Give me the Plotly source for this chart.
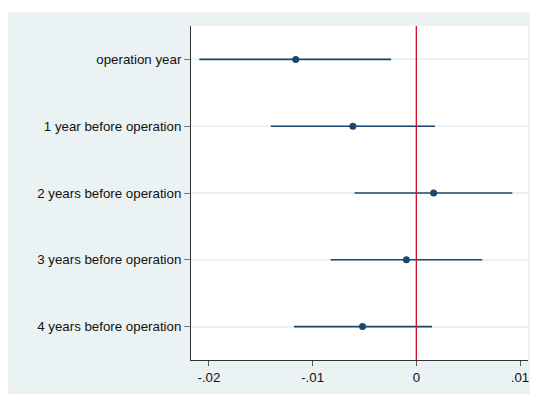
import plotly.graph_objects as go

categories = ["operation year", "1 year before operation", "2 years before operation",
              "3 years before operation", "4 years before operation"]
estimates = [-0.01163, -0.00612, 0.00167, -0.00096, -0.00519]
ci_low = [-0.02093, -0.01404, -0.00596, -0.00827, -0.01180]
ci_high = [-0.00243, 0.00180, 0.00926, 0.00635, 0.00151]
x_tickvals = [-0.02, -0.01, 0, 0.01]
x_ticktext = ["-.02", "-.01", "0", ".01"]

ypos = list(range(len(categories)))
navy = "#1A476F"

# page offsets: the html body has an 8px margin
W, H = 530, 386
L, R, T, B = 183, 9, 18, 30
plot_h = H - T - B

fig = go.Figure()
fig.add_trace(go.Scatter(
    x=estimates, y=ypos, mode="markers",
    marker=dict(color=navy, size=7, symbol="circle"),
    error_x=dict(type="data", symmetric=False,
                 array=[h - e for h, e in zip(ci_high, estimates)],
                 arrayminus=[e - l for e, l in zip(estimates, ci_low)],
                 width=0, thickness=1.6, color=navy),
    showlegend=False, hoverinfo="x+y",
))

fig.add_shape(type="line", xref="x", yref="paper", x0=0, x1=0, y0=0, y1=1,
              line=dict(color="#C4122F", width=1.3), layer="above")

# thin white strip at the top of the light-blue background
fig.add_shape(type="rect", xref="paper", yref="paper", x0=-0.7, x1=1.2,
              y0=(H - B - 4) / plot_h, y1=1.3, fillcolor="white", line_width=0, layer="below")

fig.update_layout(
    width=W, height=H,
    margin=dict(l=L, r=R, t=T, b=B),
    paper_bgcolor="#EAF2F3", plot_bgcolor="white",
    font=dict(family="Liberation Sans, Arial, sans-serif", size=13.3, color="#111111"),
    xaxis=dict(range=[(190 - 416) / 10400, (528 - 416) / 10400],
               tickvals=x_tickvals, ticktext=x_ticktext,
               showgrid=False, zeroline=False,
               showline=True, linecolor="#333333", linewidth=1,
               ticks="outside", ticklen=5, tickcolor="#555555", tickwidth=1,
               tickfont=dict(size=13.3)),
    yaxis=dict(range=[4.5, -0.5], tickvals=ypos, ticktext=categories,
               showgrid=True, gridcolor="#EAF2F3", gridwidth=1.5,
               zeroline=False, showline=True, linecolor="#333333", linewidth=1,
               ticks="outside", ticklen=6, tickcolor="#777777", tickwidth=1,
               tickfont=dict(size=13.3)),
)

fig.write_html("out.html")
